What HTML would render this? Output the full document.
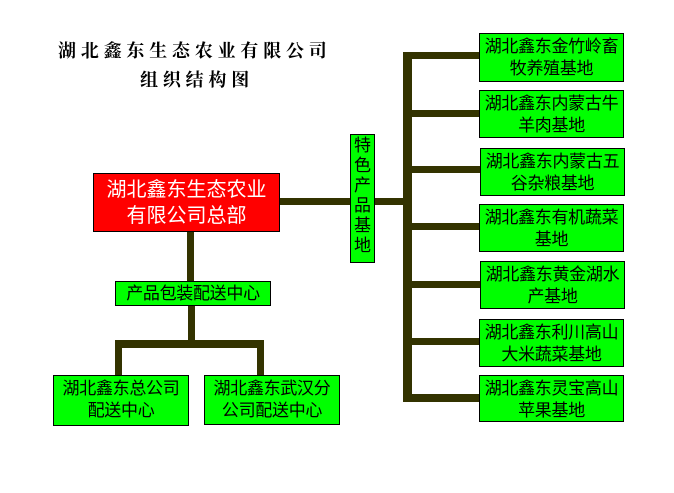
<!DOCTYPE html>
<html><head><meta charset="utf-8"><style>
body{margin:0;width:674px;height:493px;background:#fff;position:relative;overflow:hidden;font-family:"Liberation Sans","Noto Sans CJK SC","WenQuanYi Zen Hei",sans-serif;}
div{position:absolute;box-sizing:border-box;}
.l{background:#333300;}
.g{background:#00ff00;border:1.5px solid #000;color:#000;text-align:center;font-size:17px;line-height:22px;padding-top:2px;letter-spacing:-0.3px;}
.t{font-family:"Noto Serif CJK SC","WenQuanYi Zen Hei",serif;font-weight:bold;font-size:18px;letter-spacing:4.8px;color:#000;white-space:nowrap;}
</style></head><body>
<div class="t" style="left:58px;top:37px;">湖北鑫东生态农业有限公司</div>
<div class="t" style="left:140px;top:66px;">组织结构图</div>

<div class="l" style="left:403px;top:52px;width:9px;height:350px;"></div>
<div class="l" style="left:403px;top:52px;width:77px;height:7px;"></div>
<div class="l" style="left:403px;top:110px;width:77px;height:7px;"></div>
<div class="l" style="left:403px;top:166px;width:77px;height:7px;"></div>
<div class="l" style="left:403px;top:223px;width:77px;height:7px;"></div>
<div class="l" style="left:403px;top:281px;width:77px;height:7px;"></div>
<div class="l" style="left:403px;top:338px;width:77px;height:7px;"></div>
<div class="l" style="left:403px;top:394px;width:77px;height:8px;"></div>
<div class="l" style="left:280px;top:198px;width:124px;height:7px;"></div>
<div class="l" style="left:187px;top:232px;width:7px;height:50px;"></div>
<div class="l" style="left:188px;top:305px;width:7px;height:40px;"></div>
<div class="l" style="left:115px;top:340px;width:149px;height:8px;"></div>
<div class="l" style="left:115px;top:340px;width:7px;height:35px;"></div>
<div class="l" style="left:257px;top:340px;width:7px;height:36px;"></div>

<div class="g" style="left:479px;top:33px;width:145px;height:49px;">湖北鑫东金竹岭畜<br>牧养殖基地</div>
<div class="g" style="left:479px;top:90px;width:145px;height:48px;">湖北鑫东内蒙古牛<br>羊肉基地</div>
<div class="g" style="left:480px;top:148px;width:145px;height:48px;">湖北鑫东内蒙古五<br>谷杂粮基地</div>
<div class="g" style="left:479px;top:204px;width:145px;height:48px;">湖北鑫东有机蔬菜<br>基地</div>
<div class="g" style="left:480px;top:261px;width:145px;height:48px;">湖北鑫东黄金湖水<br>产基地</div>
<div class="g" style="left:479px;top:319px;width:145px;height:48px;">湖北鑫东利川高山<br>大米蔬菜基地</div>
<div class="g" style="left:479px;top:375px;width:145px;height:47px;">湖北鑫东灵宝高山<br>苹果基地</div>

<div class="g" style="left:350px;top:134px;width:25px;height:129px;line-height:20px;font-size:17px;padding-top:1px;letter-spacing:0;">特<br>色<br>产<br>品<br>基<br>地</div>
<div class="g" style="left:93px;top:173px;width:187px;height:59px;background:#ff0000;color:#fff;font-size:20px;line-height:26px;padding-top:3px;letter-spacing:0;">湖北鑫东生态农业<br>有限公司总部</div>
<div class="g" style="left:115px;top:281px;width:156px;height:25px;line-height:20px;">产品包装配送中心</div>
<div class="g" style="left:53px;top:375px;width:136px;height:51px;">湖北鑫东总公司<br>配送中心</div>
<div class="g" style="left:204px;top:375px;width:136px;height:50px;">湖北鑫东武汉分<br>公司配送中心</div>
</body></html>
